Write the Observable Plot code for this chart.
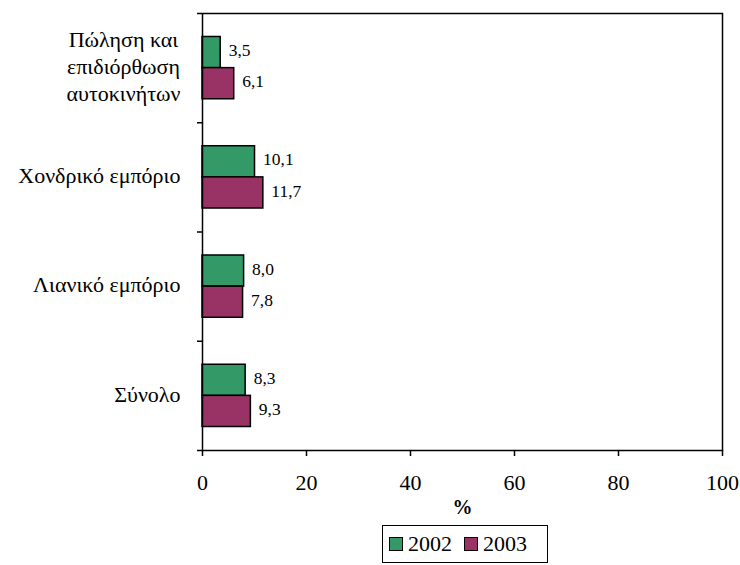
<!DOCTYPE html>
<html>
<head>
<meta charset="utf-8">
<script src="https://cdn.jsdelivr.net/npm/d3@7"></script>
<script src="https://cdn.jsdelivr.net/npm/@observablehq/plot@0.6"></script>
<style>
  body { margin: 0; background: #fff; font-family: 'Liberation Serif', serif; }
  #chart { width: 740px; }
  #legend { margin-top: 8px; margin-left: 382px; display: inline-block; }
  #legend .box { border: 1px solid #000; height: 36px; width: 158px; box-sizing: content-box; display: flex; align-items: center; padding: 0 0 0 6px; font-size: 22px; color: #000; font-family: 'Liberation Serif', serif; }
  #legend .item { display: flex; align-items: center; margin-right: 12px; }
  #legend .item:last-child { margin-right: 0; }
  #legend .sw { width: 12px; height: 12px; border: 1px solid #000; margin-right: 5px; }
</style>
</head>
<body>
<div id="chart"></div>
<script>
const categories = ["Πώληση και\nεπιδιόρθωση\nαυτοκινήτων", "Χονδρικό εμπόριο", "Λιανικό εμπόριο", "Σύνολο"];
const years = ["2002", "2003"];
const values2002 = [3.5, 10.1, 8.0, 8.3];
const values2003 = [6.1, 11.7, 7.8, 9.3];
const xTicks = [0, 20, 40, 60, 80, 100];
const colors = ["#339966", "#993366"];

const fmt = v => d3.format(".1f")(v).replace(".", ",");

// layout of each category slot (fraction of one category slot)
const gapTop = 0.215, mid = 0.5, gapBottom = 0.785;

const rows = [];
categories.forEach((c, i) => {
  rows.push({cat: c, idx: i, year: years[0], value: values2002[i], y1: i + gapTop, y2: i + mid});
  rows.push({cat: c, idx: i, year: years[1], value: values2003[i], y1: i + mid, y2: i + gapBottom});
});
const catRows = categories.map((c, i) => ({cat: c, pos: i + 0.5}));

const chart = Plot.plot({
  width: 740,
  height: 517,
  marginLeft: 202,
  marginRight: 18,
  marginTop: 13,
  marginBottom: 67,
  style: {fontFamily: "Liberation Serif", fontSize: "22px", color: "#000", background: "#fff"},
  x: {domain: [0, 100], ticks: xTicks, tickSize: 6, tickPadding: 18, label: "%", labelAnchor: "center", labelOffset: 63},
  y: {domain: [0, categories.length], reverse: true, ticks: d3.range(categories.length + 1), tickFormat: () => "", tickSize: 5, label: null},
  color: {domain: years, range: colors},
  marks: [
    Plot.rectX(rows, {x1: 0, x2: "value", y1: "y1", y2: "y2", fill: "year", stroke: "#000", strokeWidth: 1.5}),
    Plot.text(rows, {x: "value", y: d => (d.y1 + d.y2) / 2, text: d => fmt(d.value), textAnchor: "start", dx: 8, dy: -2, fontSize: 17.5, fill: "#000"}),
    Plot.text(catRows, {y: "pos", text: "cat", frameAnchor: "left", textAnchor: "end", dx: -22, dy: -3, lineHeight: 1.23, fontSize: 22, fill: "#000"}),
    Plot.frame({stroke: "#000", strokeWidth: 1.5})
  ]
});
document.getElementById("chart").appendChild(chart);

// Center the lines of multi-line category labels within their block (block stays right-aligned)
chart.querySelectorAll("text").forEach(t => {
  const spans = t.querySelectorAll("tspan");
  if (spans.length > 1) {
    const w = t.getBBox().width;
    t.setAttribute("text-anchor", "middle");
    spans.forEach(s => s.setAttribute("x", -w / 2));
  }
  if (t.textContent.trim() === "%" || t.textContent.trim().startsWith("%")) {
    t.style.fontWeight = "bold";
    t.style.fontSize = "20px";
    t.textContent = "%";
  }
});
chart.querySelectorAll("[aria-label='x-axis tick'] path, [aria-label='y-axis tick'] path, [aria-label='x-axis'] path, [aria-label='y-axis'] path").forEach(p => p.setAttribute("stroke-width", 1.5));

// Legend
const legend = document.createElement("div");
legend.id = "legend";
const box = document.createElement("div");
box.className = "box";
years.forEach((y, i) => {
  const it = document.createElement("div");
  it.className = "item";
  const sw = document.createElement("div");
  sw.className = "sw";
  sw.style.background = colors[i];
  const lab = document.createElement("span");
  lab.textContent = y;
  it.appendChild(sw); it.appendChild(lab);
  box.appendChild(it);
});
legend.appendChild(box);
document.body.appendChild(legend);
</script>
</body>
</html>
